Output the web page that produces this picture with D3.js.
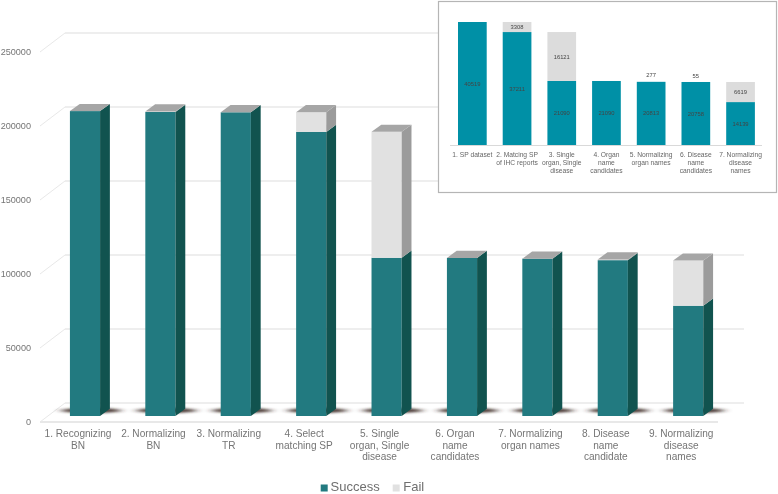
<!DOCTYPE html>
<html><head><meta charset="utf-8">
<script src="https://cdn.jsdelivr.net/npm/d3@7/dist/d3.min.js"></script>
<style>html,body{margin:0;padding:0;background:#fff;overflow:hidden}svg{display:block;font-family:"Liberation Sans",Arial,sans-serif}</style>
</head><body><svg id="c" width="778" height="494"></svg>
<script>
const categories=[["1. Recognizing","BN"],["2. Normalizing","BN"],["3. Normalizing","TR"],["4. Select","matching SP"],["5. Single","organ, Single","disease"],["6. Organ","name","candidates"],["7. Normalizing","organ names"],["8. Disease","name","candidate"],["9. Normalizing","disease","names"]];
const success=[206000,205400,205200,191900,106900,106800,106300,105300,74500];
const fail=[0,300,0,13300,85100,0,0,500,30500];
const yTicks=[0,50000,100000,150000,200000,250000];
const insetCategories=[["1. SP dataset"],["2. Matcing SP","of IHC reports"],["3. Single","organ, Single","disease"],["4. Organ","name","candidates"],["5. Normalizing","organ names"],["6. Disease","name","candidates"],["7. Normalizing","disease","names"]];
const insetSuccess=[40519,37211,21090,21090,20813,20758,14139];
const insetFail=[0,3308,16121,0,277,55,6619];

const svg=d3.select("#c");
const defs=svg.append("defs");
const blur=defs.append("filter").attr("id","sh").attr("filterUnits","userSpaceOnUse").attr("x",0).attr("y",395).attr("width",778).attr("height",30);
blur.append("feGaussianBlur").attr("stdDeviation","4 1.2");
defs.append("filter").attr("id","soft").attr("filterUnits","userSpaceOnUse").attr("x",0).attr("y",0).attr("width",778).attr("height",494)
  .append("feGaussianBlur").attr("stdDeviation","0.35");
defs.append("filter").attr("id","soft2").attr("filterUnits","userSpaceOnUse").attr("x",0).attr("y",0).attr("width",778).attr("height",494)
  .append("feGaussianBlur").attr("stdDeviation","0.25");

const x=d3.scaleBand().domain(d3.range(9)).range([47.3,725.9]).paddingInner(0.6).paddingOuter(0.3);
const yBack=d3.scaleLinear().domain([0,250000]).range([403,33]);
const yFront=d3.scaleLinear().domain([0,250000]).range([422,52]);
const yBar=d3.scaleLinear().domain([0,250000]).range([416,46]);
const dx=9.8,dy=7.2;
const grid="#e8e8e8";

// walls
const g=svg.append("g");
g.selectAll("line.b").data(yTicks).join("line").attr("class","b").attr("x1",65).attr("x2",744)
 .attr("y1",d=>yBack(d)).attr("y2",d=>yBack(d)).attr("stroke",grid).attr("stroke-width",1.4);
g.selectAll("line.s").data(yTicks).join("line").attr("class","s").attr("x1",40).attr("x2",65)
 .attr("y1",d=>yFront(d)).attr("y2",d=>yBack(d)).attr("stroke",grid).attr("stroke-width",1);
g.append("line").attr("x1",40).attr("x2",718).attr("y1",yFront(0)).attr("y2",yFront(0)).attr("stroke",grid).attr("stroke-width",2);

// y axis
const ax=svg.append("g").attr("filter","url(#soft2)").append("g").attr("transform","translate(38,0)")
 .call(d3.axisLeft(yFront).tickValues(yTicks).tickSize(0).tickPadding(7).tickFormat(d3.format("d")));
ax.select(".domain").remove();
ax.selectAll("text").attr("font-family","Liberation Sans").attr("font-size",9.1).attr("fill","#757575");

// shadows
const sh=svg.append("g").attr("filter","url(#sh)");
sh.selectAll("ellipse").data(d3.range(9)).join("ellipse")
 .attr("cx",i=>x(i)+x.bandwidth()/2+6).attr("cy",yBack(0)+7.5).attr("rx",30).attr("ry",2.6).attr("fill","#3c2a26").attr("opacity",.9);

// bars
function prism(sel,i,v0,v1,front,side,top){
  const l=x(i),r=l+x.bandwidth(),y0=yBar(v0),y1=yBar(v1);
  sel.append("rect").attr("x",l).attr("y",y1).attr("width",x.bandwidth()).attr("height",y0-y1).attr("fill",front);
  sel.append("path").attr("d",`M${r},${y1}L${r+dx},${y1-dy}L${r+dx},${y0-dy}L${r},${y0}Z`).attr("fill",side);
  if(top) sel.append("path").attr("d",`M${l},${y1}L${l+dx},${y1-dy}L${r+dx},${y1-dy}L${r},${y1}Z`).attr("fill",top);
}
const bars=svg.append("g");
success.forEach((s,i)=>{
  const b=bars.append("g");
  prism(b,i,0,s,"#227a80","#11534f",fail[i]?null:"#a6a6a6");
  if(fail[i]) prism(b,i,s,s+fail[i],"#e1e1e1","#9b9b9b","#a6a6a6");
});

// category labels
const cl=svg.append("g").attr("font-size",10.1).attr("fill","#757575").attr("text-anchor","middle").attr("filter","url(#soft2)");
categories.forEach((c,i)=>{
  const t=cl.append("text").attr("y",437);
  c.forEach((s,k)=>t.append("tspan").attr("x",x(i)+x.bandwidth()/2-7).attr("dy",k?11.7:0).text(s));
});

// legend
const lg=svg.append("g").attr("filter","url(#soft2)");
const legend=[["Success","#227a80",320.7,330.5],["Fail","#e1e1e1",392.7,403.3]];
legend.forEach(d=>{
  lg.append("rect").attr("x",d[2]).attr("y",484.5).attr("width",7).attr("height",7).attr("fill",d[1]);
  lg.append("text").attr("x",d[3]).attr("y",491).attr("font-size",13).attr("fill","#6f6f6f").text(d[0]);
});

// inset
const ins=svg.append("g").attr("filter","url(#soft)");
ins.append("rect").attr("x",438.5).attr("y",1.5).attr("width",338).attr("height",191).attr("fill","#fff").attr("stroke","#b5b5b5").attr("stroke-width",1.2);
const ix=d3.scaleBand().domain(d3.range(7)).range([444.6,768.3]).paddingInner(0.358).paddingOuter(0.3);
const iy=d3.scaleLinear().domain([0,40519]).range([145,22]);
const iBlue="#0090a6",iGrey="#dcdcdc";
insetSuccess.forEach((s,i)=>{
  const l=ix(i),w=ix.bandwidth(),cx=l+w/2,f=insetFail[i];
  ins.append("rect").attr("x",l).attr("y",iy(s)).attr("width",w).attr("height",iy(0)-iy(s)).attr("fill",iBlue);
  if(f>1000) ins.append("rect").attr("x",l).attr("y",iy(s+f)).attr("width",w).attr("height",iy(s)-iy(s+f)).attr("fill",iGrey);
  const txt=(v,yy)=>ins.append("text").attr("x",cx).attr("y",yy).attr("dy","0.35em").attr("text-anchor","middle").attr("font-size",5.8).attr("fill","#444").text(v);
  txt(s,iy(s/2));
  if(f) txt(f,f>1000?iy(s+f/2):iy(s+f)-6);
  const t=ins.append("text").attr("font-size",6.7).attr("fill","#666").attr("text-anchor","middle").attr("y",156.5);
  insetCategories[i].forEach((c,k)=>t.append("tspan").attr("x",cx).attr("dy",k?8:0).text(c));
});
ins.append("line").attr("x1",450).attr("x2",762).attr("y1",iy(0)+.5).attr("y2",iy(0)+.5).attr("stroke","#d9d9d9").attr("stroke-width",1);
</script></body></html>
